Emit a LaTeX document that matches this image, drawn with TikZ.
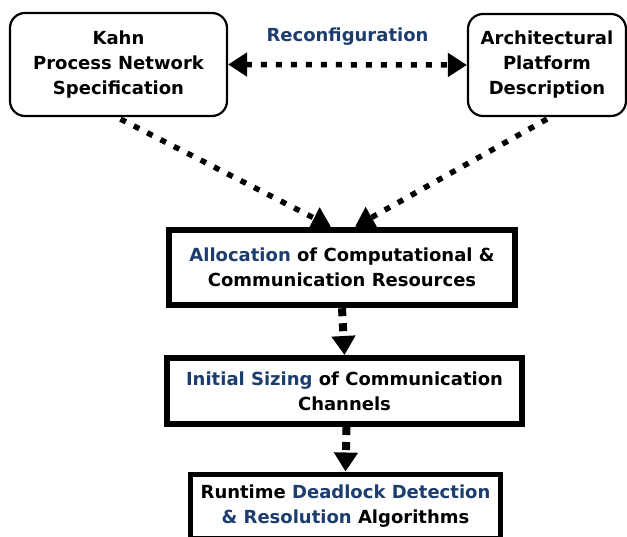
\documentclass[tikz,border=0pt]{standalone}
\usepackage{fontspec}
\setmainfont{DejaVu Sans}
\usetikzlibrary{arrows.meta,calc}
\definecolor{hiblue}{RGB}{28,61,110}
\begin{document}
\begin{tikzpicture}[x=1pt,y=-1pt,
  every node/.style={font=\bfseries\fontsize{18}{25}\selectfont, align=center, inner sep=0pt},
  specbox/.style={draw, line width=2.2pt, rounded corners=15pt, fill=white},
  stagebox/.style={draw, fill=white},
  dotline/.style={line width=5.5pt, dash pattern=on 6pt off 9pt},
  stemline/.style={line width=8pt, dash pattern=on 8pt off 7pt},
  bigtip/.style={-{Triangle[length=19pt,width=23pt]}},
  twotip/.style={{Triangle[length=19pt,width=23pt]}-{Triangle[length=19pt,width=23pt]}}
]
\useasboundingbox (0,0) rectangle (627,537);
\clip (0,0) rectangle (627,537);

% source descriptions
\node[specbox, minimum width=217pt, minimum height=103pt] (kahn) at (118.5,64.5)
  {Kahn\\Process Network\\Specification};
\node[specbox, minimum width=158pt, minimum height=102pt] (arch) at (547,65)
  {Architectural\\Platform\\Description};

% processing stages
\node[stagebox, line width=6.5pt, minimum width=346pt, minimum height=75pt] (alloc) at (342,267.5)
  {\textcolor{hiblue}{Allocation} of Computational \&\\Communication Resources};
\node[stagebox, line width=6pt, minimum width=355pt, minimum height=66pt] (size) at (344.5,391)
  {\textcolor{hiblue}{Initial Sizing} of Communication\\Channels};
\node[stagebox, line width=5pt, minimum width=310pt, minimum height=64pt] (dead) at (345.5,506)
  {Runtime \textcolor{hiblue}{Deadlock Detection}\\\textcolor{hiblue}{\& Resolution} Algorithms};

% reconfiguration link
\draw[dotline, twotip] (kahn.east) -- (arch.west)
  node[midway, above=17pt, text=hiblue] (reconf) {Reconfiguration};

% inputs to allocation
\draw[dotline, bigtip] ($(kahn.south)+(2,2)$) -- ($(alloc.north)+(-11,0)$);
\draw[dotline, bigtip] ($(arch.south)+(0,2)$) -- ($(alloc.north)+(13,0)$);

% stage to stage
\draw[stemline, bigtip] (alloc.south) -- (size.north);
\draw[stemline, bigtip] ($(size.south)+(2,0)$) -- (dead.north);
\end{tikzpicture}
\end{document}
